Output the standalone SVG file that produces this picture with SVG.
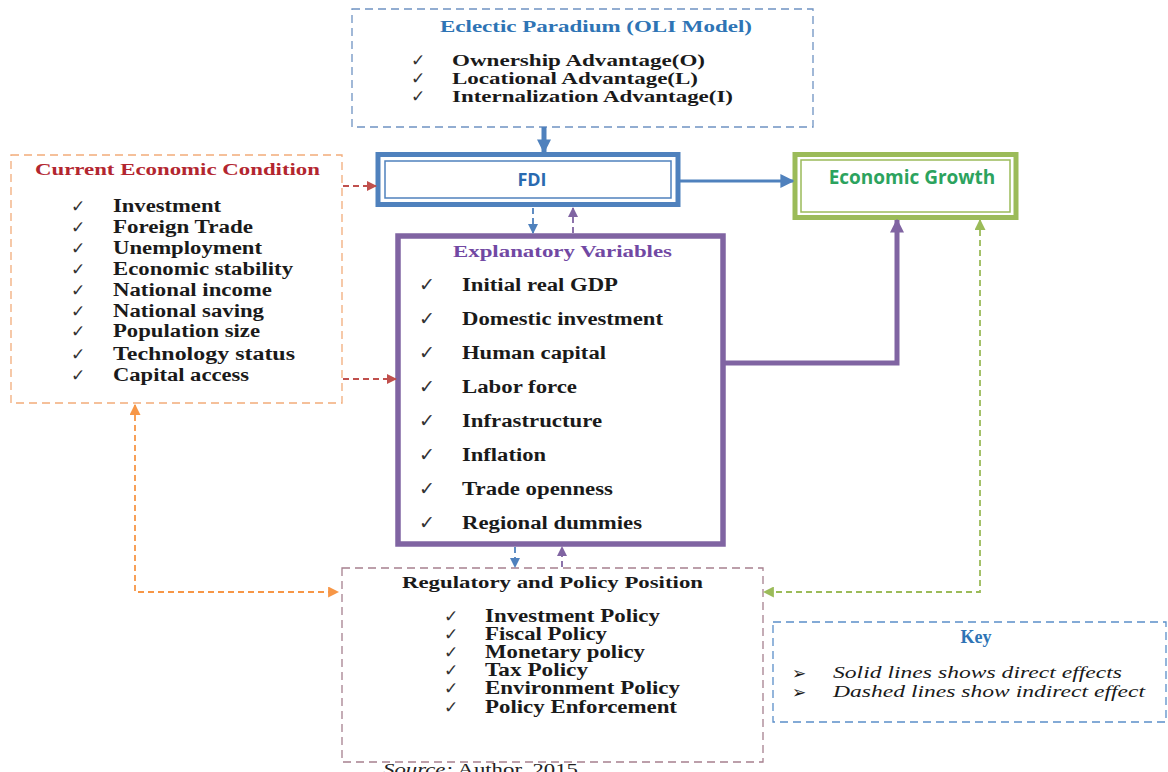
<svg xmlns="http://www.w3.org/2000/svg" width="1168" height="772" viewBox="0 0 1168 772">
<style>
.bg{fill:#ffffff}
.dbox{fill:#ffffff;stroke-width:1.3;stroke-dasharray:8 5}
.item{font-family:"Liberation Serif","Times New Roman",serif;font-weight:bold;fill:#1a1a1a}
.ck{font-family:"DejaVu Sans",sans-serif;fill:#333333;font-size:17px}
.ckl{font-family:"DejaVu Sans",sans-serif;fill:#333333;font-size:19px}
.ttl{font-family:"Liberation Serif","Times New Roman",serif;font-weight:bold}
.sans{font-family:"Open Sans","Liberation Sans",Arial,sans-serif;font-weight:bold}
.key{font-family:"Liberation Serif","Times New Roman",serif;font-style:italic;fill:#1a1a1a;font-size:17px}
.bul{font-family:"DejaVu Sans",sans-serif;font-size:17px;fill:#1a1a1a}
.dash{fill:none;stroke-width:1.8;stroke-dasharray:6 4}
</style>
<defs>
<marker id="aBlue" markerUnits="userSpaceOnUse" markerWidth="14" markerHeight="14" viewBox="0 0 10 10" refX="9" refY="5" orient="auto-start-reverse"><path d="M0,0 L10,5 L0,10 z" fill="#4f81bd"/></marker>
<marker id="aBlueS" markerUnits="userSpaceOnUse" markerWidth="10" markerHeight="10" viewBox="0 0 10 10" refX="9" refY="5" orient="auto-start-reverse"><path d="M0,0 L10,5 L0,10 z" fill="#4f81bd"/></marker>
<marker id="aPurp" markerUnits="userSpaceOnUse" markerWidth="14" markerHeight="14" viewBox="0 0 10 10" refX="9" refY="5" orient="auto-start-reverse"><path d="M0,0 L10,5 L0,10 z" fill="#8064a2"/></marker>
<marker id="aPurpS" markerUnits="userSpaceOnUse" markerWidth="10" markerHeight="10" viewBox="0 0 10 10" refX="9" refY="5" orient="auto-start-reverse"><path d="M0,0 L10,5 L0,10 z" fill="#8064a2"/></marker>
<marker id="aRed" markerUnits="userSpaceOnUse" markerWidth="10" markerHeight="10" viewBox="0 0 10 10" refX="9" refY="5" orient="auto-start-reverse"><path d="M0,0 L10,5 L0,10 z" fill="#c0504d"/></marker>
<marker id="aOrg" markerUnits="userSpaceOnUse" markerWidth="11" markerHeight="11" viewBox="0 0 10 10" refX="9" refY="5" orient="auto-start-reverse"><path d="M0,0 L10,5 L0,10 z" fill="#f79646"/></marker>
<marker id="aGrn" markerUnits="userSpaceOnUse" markerWidth="11" markerHeight="11" viewBox="0 0 10 10" refX="9" refY="5" orient="auto-start-reverse"><path d="M0,0 L10,5 L0,10 z" fill="#9bbb59"/></marker>
</defs>
<rect class="bg" x="0" y="0" width="1168" height="772"/>

<g id="oli">
<rect class="dbox" x="352" y="9" width="461" height="118" stroke="#6f93c2"/>
<text class="ttl" x="440" y="32" font-size="17" fill="#2e74b5" textLength="312" lengthAdjust="spacingAndGlyphs">Eclectic Paradium (OLI Model)</text>
<text class="ck" x="411" y="66">✓</text><text class="item" x="452" y="66" font-size="17" textLength="253" lengthAdjust="spacingAndGlyphs">Ownership Advantage(O)</text>
<text class="ck" x="411" y="84">✓</text><text class="item" x="452" y="84" font-size="17" textLength="246" lengthAdjust="spacingAndGlyphs">Locational Advantage(L)</text>
<text class="ck" x="411" y="102">✓</text><text class="item" x="452" y="102" font-size="17" textLength="281" lengthAdjust="spacingAndGlyphs">Internalization Advantage(I)</text>
</g>

<g id="fdi">
<rect x="378" y="154.5" width="300" height="50" fill="#ffffff" stroke="#4f81bd" stroke-width="5"/>
<rect x="385" y="161" width="286" height="37" fill="none" stroke="#4f81bd" stroke-width="1.5"/>
<text class="sans" x="532" y="186" font-size="18" fill="#2a6ab0" text-anchor="middle">FDI</text>
</g>

<g id="growth">
<rect x="795" y="154.5" width="221" height="63" fill="#ffffff" stroke="#9bbb59" stroke-width="5"/>
<rect x="801" y="160" width="209" height="52" fill="none" stroke="#9bbb59" stroke-width="1.5"/>
<text class="sans" x="912" y="184" font-size="19" fill="#2ca35e" text-anchor="middle">Economic Growth</text>
</g>

<g id="current">
<rect class="dbox" x="11" y="155" width="331" height="248" stroke="#f2ac7a"/>
<text class="ttl" x="35" y="175" font-size="16" fill="#b3262f" textLength="285" lengthAdjust="spacingAndGlyphs">Current Economic Condition</text>
<text class="ck" x="71" y="212">✓</text><text class="item" x="113" y="212" font-size="18" textLength="108" lengthAdjust="spacingAndGlyphs">Investment</text>
<text class="ck" x="71" y="233">✓</text><text class="item" x="113" y="233" font-size="18" textLength="140" lengthAdjust="spacingAndGlyphs">Foreign Trade</text>
<text class="ck" x="71" y="254">✓</text><text class="item" x="113" y="254" font-size="18" textLength="149" lengthAdjust="spacingAndGlyphs">Unemployment</text>
<text class="ck" x="71" y="275">✓</text><text class="item" x="113" y="275" font-size="18" textLength="180" lengthAdjust="spacingAndGlyphs">Economic stability</text>
<text class="ck" x="71" y="296">✓</text><text class="item" x="113" y="296" font-size="18" textLength="159" lengthAdjust="spacingAndGlyphs">National income</text>
<text class="ck" x="71" y="317">✓</text><text class="item" x="113" y="317" font-size="18" textLength="151" lengthAdjust="spacingAndGlyphs">National saving</text>
<text class="ck" x="71" y="337">✓</text><text class="item" x="113" y="337" font-size="18" textLength="147" lengthAdjust="spacingAndGlyphs">Population size</text>
<text class="ck" x="71" y="360">✓</text><text class="item" x="113" y="360" font-size="18" textLength="182" lengthAdjust="spacingAndGlyphs">Technology status</text>
<text class="ck" x="71" y="381">✓</text><text class="item" x="113" y="381" font-size="18" textLength="136" lengthAdjust="spacingAndGlyphs">Capital access</text>
</g>

<g id="explanatory">
<rect x="398" y="236" width="325" height="308" fill="#ffffff" stroke="#8064a2" stroke-width="5.5"/>
<text class="ttl" x="453" y="257" font-size="17" fill="#7148a3" textLength="219" lengthAdjust="spacingAndGlyphs">Explanatory Variables</text>
<text class="ckl" x="419" y="291">✓</text><text class="item" x="462" y="291" font-size="18" textLength="156" lengthAdjust="spacingAndGlyphs">Initial real GDP</text>
<text class="ckl" x="419" y="325">✓</text><text class="item" x="462" y="325" font-size="18" textLength="201" lengthAdjust="spacingAndGlyphs">Domestic investment</text>
<text class="ckl" x="419" y="359">✓</text><text class="item" x="462" y="359" font-size="18" textLength="144" lengthAdjust="spacingAndGlyphs">Human capital</text>
<text class="ckl" x="419" y="393">✓</text><text class="item" x="462" y="393" font-size="18" textLength="115" lengthAdjust="spacingAndGlyphs">Labor force</text>
<text class="ckl" x="419" y="427">✓</text><text class="item" x="462" y="427" font-size="18" textLength="140" lengthAdjust="spacingAndGlyphs">Infrastructure</text>
<text class="ckl" x="419" y="461">✓</text><text class="item" x="462" y="461" font-size="18" textLength="84" lengthAdjust="spacingAndGlyphs">Inflation</text>
<text class="ckl" x="419" y="495">✓</text><text class="item" x="462" y="495" font-size="18" textLength="151" lengthAdjust="spacingAndGlyphs">Trade openness</text>
<text class="ckl" x="419" y="529">✓</text><text class="item" x="462" y="529" font-size="18" textLength="180" lengthAdjust="spacingAndGlyphs">Regional dummies</text>
</g>

<g id="regulatory">
<rect class="dbox" x="342" y="568" width="421" height="194" stroke="#a6808f"/>
<text class="ttl" x="402" y="588" font-size="17" fill="#1a1a1a" textLength="301" lengthAdjust="spacingAndGlyphs">Regulatory and Policy Position</text>
<text class="ck" x="444" y="622">✓</text><text class="item" x="485" y="622" font-size="18" textLength="175" lengthAdjust="spacingAndGlyphs">Investment Policy</text>
<text class="ck" x="444" y="640">✓</text><text class="item" x="485" y="640" font-size="18" textLength="122" lengthAdjust="spacingAndGlyphs">Fiscal Policy</text>
<text class="ck" x="444" y="658">✓</text><text class="item" x="485" y="658" font-size="18" textLength="160" lengthAdjust="spacingAndGlyphs">Monetary policy</text>
<text class="ck" x="444" y="676">✓</text><text class="item" x="485" y="676" font-size="18" textLength="103" lengthAdjust="spacingAndGlyphs">Tax Policy</text>
<text class="ck" x="444" y="694">✓</text><text class="item" x="485" y="694" font-size="18" textLength="195" lengthAdjust="spacingAndGlyphs">Environment Policy</text>
<text class="ck" x="444" y="713">✓</text><text class="item" x="485" y="713" font-size="18" textLength="192" lengthAdjust="spacingAndGlyphs">Policy Enforcement</text>
</g>

<g id="key">
<rect class="dbox" x="773" y="622" width="393" height="100" stroke="#5b8fc9"/>
<text class="ttl" x="976" y="643" font-size="18" fill="#2e74b5" text-anchor="middle">Key</text>
<text class="bul" x="792" y="679">➢</text>
<text class="key" x="833" y="678" textLength="289" lengthAdjust="spacingAndGlyphs">Solid lines shows direct effects</text>
<text class="bul" x="792" y="698">➢</text>
<text class="key" x="833" y="697" textLength="312" lengthAdjust="spacingAndGlyphs">Dashed lines show indirect effect</text>
</g>

<g id="source">
<text x="383" y="775" font-family="'Liberation Serif','Times New Roman',serif" font-size="17" fill="#222222" textLength="195" lengthAdjust="spacingAndGlyphs"><tspan font-style="italic">Source:</tspan> Author, 2015</text>
</g>

<g id="connectors">
<line x1="544" y1="127" x2="544" y2="152" stroke="#4f81bd" stroke-width="5" marker-end="url(#aBlue)"/>
<line x1="680" y1="181" x2="793" y2="181" stroke="#4f81bd" stroke-width="3" marker-end="url(#aBlue)"/>
<path d="M725,363 H897 V220" fill="none" stroke="#8064a2" stroke-width="5" marker-end="url(#aPurp)"/>
<line class="dash" x1="343" y1="186" x2="376" y2="186" stroke="#c0504d" marker-end="url(#aRed)"/>
<line class="dash" x1="343" y1="379" x2="396" y2="379" stroke="#c0504d" marker-end="url(#aRed)"/>
<line class="dash" x1="533" y1="208" x2="533" y2="233" stroke="#4f81bd" marker-end="url(#aBlueS)"/>
<line class="dash" x1="573" y1="233" x2="573" y2="208" stroke="#8064a2" marker-end="url(#aPurpS)"/>
<line class="dash" x1="515" y1="547" x2="515" y2="567" stroke="#4f81bd" marker-end="url(#aBlueS)"/>
<line class="dash" x1="562" y1="567" x2="562" y2="547" stroke="#8064a2" marker-end="url(#aPurpS)"/>
<path class="dash" d="M135,405 V592 H338" stroke="#f79646" marker-start="url(#aOrg)" marker-end="url(#aOrg)"/>
<path class="dash" d="M980,220 V592 H764" stroke="#9bbb59" marker-start="url(#aGrn)" marker-end="url(#aGrn)"/>
</g>
</svg>
